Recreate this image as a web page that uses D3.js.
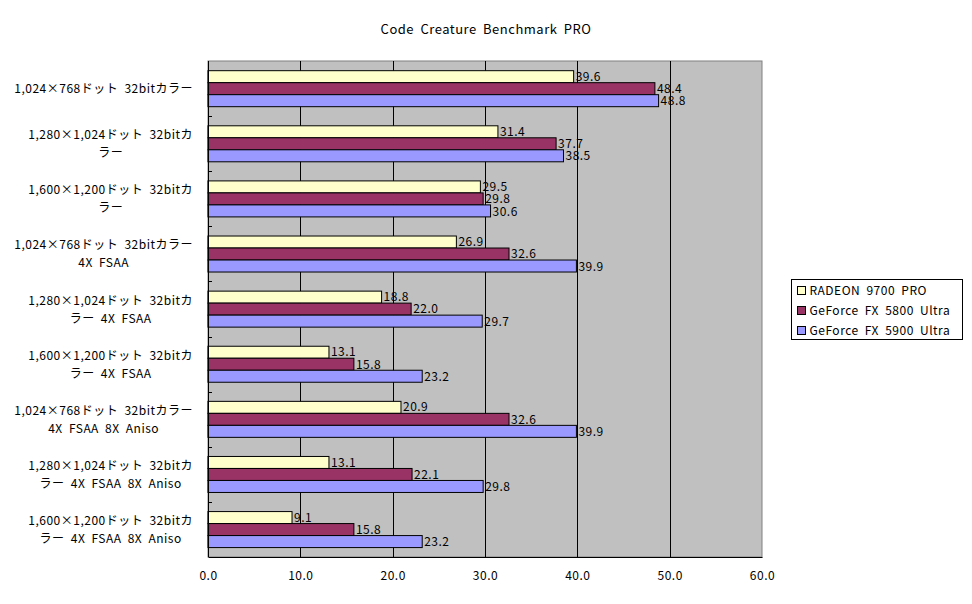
<!DOCTYPE html>
<html>
<head>
<meta charset="utf-8">
<script src="https://cdn.jsdelivr.net/npm/d3@7"></script>
<style>
    body { margin: 0; background: #fff; }
    text { font-family: "Noto Sans CJK JP", "DejaVu Sans", sans-serif; letter-spacing: 0.5px; word-spacing: 3px; }
</style>
</head>
<body>
<div id="chart"></div>
<script>
// data
const categories = [
    ['1,024×768ドット 32bitカラー'],
    ['1,280×1,024ドット 32bitカ', 'ラー'],
    ['1,600×1,200ドット 32bitカ', 'ラー'],
    ['1,024×768ドット 32bitカラー', '4X FSAA'],
    ['1,280×1,024ドット 32bitカ', 'ラー 4X FSAA'],
    ['1,600×1,200ドット 32bitカ', 'ラー 4X FSAA'],
    ['1,024×768ドット 32bitカラー', '4X FSAA 8X Aniso'],
    ['1,280×1,024ドット 32bitカ', 'ラー 4X FSAA 8X Aniso'],
    ['1,600×1,200ドット 32bitカ', 'ラー 4X FSAA 8X Aniso'],
];
const seriesNames = ['RADEON 9700 PRO', 'GeForce FX 5800 Ultra', 'GeForce FX 5900 Ultra'];
const radeon9700 = [39.6, 31.4, 29.5, 26.9, 18.8, 13.1, 20.9, 13.1, 9.1];
const geforce5800 = [48.4, 37.7, 29.8, 32.6, 22.0, 15.8, 32.6, 22.1, 15.8];
const geforce5900 = [48.8, 38.5, 30.6, 39.9, 29.7, 23.2, 39.9, 29.8, 23.2];
const xTicks = [0, 10, 20, 30, 40, 50, 60];
const colors = ['#ffffcc', '#993366', '#9999ff'];

const draw = () => {
    const seriesValues = [radeon9700, geforce5800, geforce5900];

    const dimensions = {
        width: 972,
        height: 604,
        margin: { top: 61, bottom: 47, left: 208, right: 210 }
    };
    dimensions.containerWidth = dimensions.width - dimensions.margin.left - dimensions.margin.right;
    dimensions.containerHeight = dimensions.height - dimensions.margin.top - dimensions.margin.bottom;

    const svg = d3.select('#chart')
        .append('svg')
        .attr('width', dimensions.width)
        .attr('height', dimensions.height);

    svg.append('text')
        .attr('x', 486)
        .attr('y', 34)
        .attr('text-anchor', 'middle')
        .style('font-size', '13px')
        .text('Code Creature Benchmark PRO');

    const container = svg.append('g')
        .attr('transform', `translate(${dimensions.margin.left}, ${dimensions.margin.top})`);

    // scales
    const xScale = d3.scaleLinear()
        .domain([0, 60])
        .range([0, dimensions.containerWidth]);

    const yScale = d3.scaleBand()
        .domain(d3.range(categories.length))
        .range([0, dimensions.containerHeight])
        .paddingInner(1 / 3)
        .paddingOuter(1 / 6);

    const subScale = d3.scaleBand()
        .domain(d3.range(seriesNames.length))
        .range([0, yScale.bandwidth()]);

    // plot area
    container.append('rect')
        .attr('width', dimensions.containerWidth)
        .attr('height', dimensions.containerHeight)
        .attr('fill', '#c0c0c0')
        .attr('stroke', '#808080');

    // grid
    container.selectAll('.grid')
        .data(xTicks.slice(1, -1))
        .join('line')
        .attr('class', 'grid')
        .attr('x1', d => Math.round(xScale(d)) + 0.5)
        .attr('x2', d => Math.round(xScale(d)) + 0.5)
        .attr('y1', 0)
        .attr('y2', dimensions.containerHeight)
        .attr('stroke', '#000');

    // bars
    const groups = container.selectAll('.group')
        .data(categories.map((c, i) => i))
        .join('g')
        .attr('class', 'group')
        .attr('transform', i => `translate(0, ${yScale(i)})`);

    groups.selectAll('rect')
        .data(i => seriesValues.map((vals, s) => ({ s, value: vals[i] })))
        .join('rect')
        .attr('x', 0)
        .attr('y', d => Math.round(subScale(d.s)) + 0.5)
        .attr('width', d => xScale(d.value))
        .attr('height', Math.round(subScale.bandwidth()))
        .attr('fill', d => colors[d.s])
        .attr('stroke', '#000');

    groups.selectAll('.value')
        .data(i => seriesValues.map((vals, s) => ({ s, value: vals[i] })))
        .join('text')
        .attr('class', 'value')
        .attr('x', d => xScale(d.value) + 2)
        .attr('y', d => subScale(d.s) + subScale.bandwidth() / 2 + 4.5)
        .style('font-size', '12px')
        .text(d => d.value.toFixed(1));

    // axes
    const xAxis = d3.axisBottom(xScale)
        .tickValues(xTicks)
        .tickSize(0)
        .tickPadding(14)
        .tickFormat(d3.format('.1f'));

    const xAxisGroup = container.append('g')
        .attr('transform', `translate(0, ${dimensions.containerHeight})`)
        .call(xAxis);
    xAxisGroup.select('.domain').attr('stroke', '#000');
    xAxisGroup.selectAll('text')
        .style('font-size', '12px')
        .style('font-family', '"Noto Sans CJK JP", sans-serif')
        .attr('fill', '#000');

    container.append('line')
        .attr('x1', 0.5).attr('x2', 0.5)
        .attr('y1', 0).attr('y2', dimensions.containerHeight)
        .attr('stroke', '#000');

    // category ticks on boundaries
    const step = yScale.step();
    container.selectAll('.ytick')
        .data(d3.range(1, categories.length))
        .join('line')
        .attr('class', 'ytick')
        .attr('x1', 0).attr('x2', 4)
        .attr('y1', i => Math.round(yScale(i) - step * yScale.paddingInner() / 2) + 0.5)
        .attr('y2', i => Math.round(yScale(i) - step * yScale.paddingInner() / 2) + 0.5)
        .attr('stroke', '#000');

    // category labels
    const labelRight = 193;
    const lineHeight = 18;
    categories.forEach((lines, i) => {
        const cy = yScale(i) + yScale.bandwidth() / 2 + dimensions.margin.top;
        const label = svg.append('text')
            .attr('text-anchor', 'middle')
            .style('font-size', '12px');
        lines.forEach((line, j) => {
            label.append('tspan')
                .attr('y', cy + 4.5 + (j - (lines.length - 1) / 2) * lineHeight)
                .text(line);
        });
        const widest = d3.max(label.selectAll('tspan').nodes(), n => n.getComputedTextLength());
        label.selectAll('tspan').attr('x', labelRight - widest / 2);
    });

    // legend
    const legend = svg.append('g')
        .attr('transform', 'translate(791.5, 279.5)');
    legend.append('rect')
        .attr('width', 171)
        .attr('height', 60)
        .attr('fill', '#fff')
        .attr('stroke', '#000');

    const items = legend.selectAll('.item')
        .data(seriesNames)
        .join('g')
        .attr('class', 'item')
        .attr('transform', (d, i) => `translate(6, ${11 + i * 20})`);
    items.append('rect')
        .attr('x', 0).attr('y', -4)
        .attr('width', 8).attr('height', 8)
        .attr('fill', (d, i) => colors[i])
        .attr('stroke', '#000');
    items.append('text')
        .attr('x', 12)
        .attr('y', 4.5)
        .style('font-size', '12px')
        .text(d => d);
};

draw();
</script>
</body>
</html>
